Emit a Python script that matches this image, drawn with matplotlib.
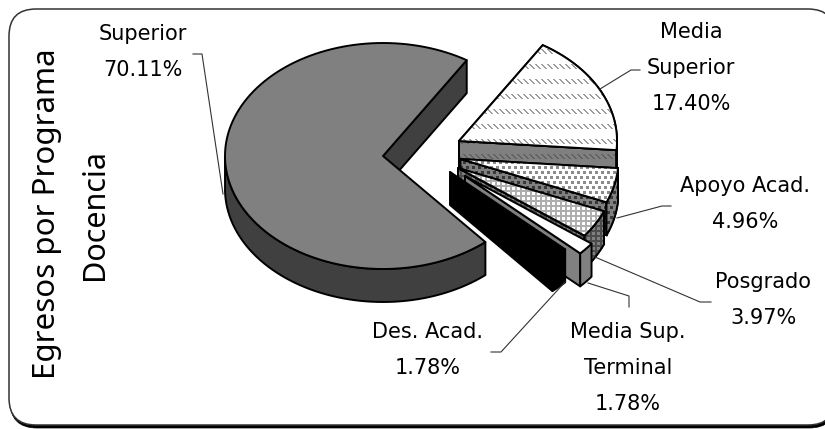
import numpy as np
import matplotlib
matplotlib.use("Agg")
import matplotlib.pyplot as plt
from matplotlib.patches import Polygon, FancyBboxPatch

# Data
names = ['Media Superior', 'Apoyo Acad.', 'Posgrado', 'Media Sup. Terminal', 'Des. Acad.', 'Superior']
percents = [17.40, 4.96, 3.97, 1.78, 1.78, 70.11]
label_lines = [['Media', 'Superior', '17.40%'], ['Apoyo Acad.', '4.96%'], ['Posgrado', '3.97%'],
               ['Media Sup.', 'Terminal', '1.78%'], ['Des. Acad.', '1.78%'], ['Superior', '70.11%']]
title_lines = ['Egresos por Programa', 'Docencia']

# Layout (pixels)
W, H = 825, 429
apex = [(459, 141), (460.5, 159), (458, 168), (465, 176), (450, 172), (383, 156)]
label_pos = [(691, 32), (745, 186), (763, 282), (628, 332), (428, 332), (143, 34)]
leaders = [[(640, 70), (631, 70), (600, 89)],
           [(671, 206), (662, 206), (617, 218)],
           [(711, 302), (700, 302), (595, 257)],
           [(629, 307), (629, 296), (588, 283)],
           [(491, 352), (501, 352), (565, 282)],
           [(193, 54), (202, 54), (223, 194)]]
RX, RY, DEPTH = 158, 113, 33
START = 58


def make_tile(kind, paper, ink):
    if kind == 'dash':
        tile = np.full((15, 6), paper)
        for i in range(5):
            tile[(4 + i), (i + 1) % 6] = ink
            tile[(4 + i), (i + 2) % 6] = ink
    elif kind == 'dots':
        tile = np.full((10, 12), paper)
        tile[1:4, 1:4] = ink
        tile[1:4, 7:10] = ink
        tile[6:9, 4:7] = ink
        tile[6:9, 10:12] = ink
        tile[6:9, 0] = ink
    elif kind == 'grid':
        tile = np.full((5, 5), paper)
        tile[0:2, :] = ink
        tile[:, 0:2] = ink
    else:
        tile = np.full((2, 2), paper)
    return tile


top_fill = [('dash', 1.0, 0.62), ('dots', 1.0, 0.55), ('grid', 1.0, 0.68), ('flat', 1.0, 1.0), ('flat', 0.0, 0.0), ('flat', 0.5, 0.5)]
side_fill = [('dash', 0.5, 0.38), ('dots', 0.5, 0.22), ('grid', 0.5, 0.3), ('flat', 0.5, 0.5), ('flat', 0.0, 0.0), ('flat', 0.25, 0.25)]


def paint(ax, pts, fill):
    kind, paper, ink = fill
    poly = Polygon(pts, closed=True, facecolor=str(paper), edgecolor='black', lw=1.4, joinstyle='round', zorder=3)
    ax.add_patch(poly)
    if kind != 'flat':
        tile = make_tile(kind, paper, ink)
        rows = H // tile.shape[0] + 1
        cols = W // tile.shape[1] + 1
        img = ax.imshow(np.tile(tile, (rows, cols)), cmap='gray', vmin=0, vmax=1, interpolation='nearest',
                        extent=(0, tile.shape[1] * cols, tile.shape[0] * rows, 0), aspect='auto', zorder=3)
        img.set_clip_path(poly)
        edge = Polygon(pts, closed=True, fill=False, edgecolor='black', lw=1.4, zorder=3)
        ax.add_patch(edge)


def draw_slice(ax, center, a0, a1, top, side):
    cx, cy = center
    ang = np.radians(np.linspace(a0, a1, 120))
    rim = np.column_stack([cx + RX * np.cos(ang), cy - RY * np.sin(ang)])
    down = np.array([0, DEPTH])
    # radial walls, only those facing the viewer
    if np.cos(ang[-1]) > 0:
        p = rim[-1]
        paint(ax, [center, p, p + down, np.array(center) + down], side)
    if np.cos(ang[0]) < 0:
        p = rim[0]
        paint(ax, [center, p, p + down, np.array(center) + down], side)
    # outer wall, front part only
    front = rim[np.sin(ang) <= 0]
    if len(front) > 1:
        paint(ax, np.vstack([front, front[::-1] + down]), side)
    paint(ax, np.vstack([[center], rim]), top)


fig = plt.figure(figsize=(W / 100, H / 100), dpi=100)
ax = fig.add_axes([0, 0, 1, 1])

# chart frame, its right side runs off the canvas; black shadow along the bottom
ax.add_patch(FancyBboxPatch((10, 12), 826, 416, boxstyle='round,pad=0,rounding_size=27',
                            fc='black', ec='black', lw=0.5, zorder=1))
ax.add_patch(FancyBboxPatch((9, 9), 826, 416, boxstyle='round,pad=0,rounding_size=27',
                            fc='white', ec='#333333', lw=1.1, zorder=1))

angle = START
for i in range(len(names)):
    sweep = percents[i] * 3.6
    draw_slice(ax, apex[i], angle, angle - sweep, top_fill[i], side_fill[i])
    angle -= sweep

for i, line in enumerate(leaders):
    xs, ys = zip(*line)
    ax.plot(xs, ys, color='#333333', lw=0.8, zorder=4)
    x, y = label_pos[i]
    for j, txt in enumerate(label_lines[i]):
        ax.text(x, y + 36 * j, txt, fontsize=15, family='DejaVu Sans', ha='center', va='center', color='black', zorder=5)

ax.text(47, 214, title_lines[0], rotation=90, fontsize=22.5, family='Noto Sans', ha='center', va='center')
ax.text(95, 214, title_lines[1], rotation=90, fontsize=22, family='Noto Sans', ha='center', va='center')

ax.set_xlim(0, W)
ax.set_ylim(H, 0)
ax.axis('off')
plt.savefig("out.png", dpi=100)
